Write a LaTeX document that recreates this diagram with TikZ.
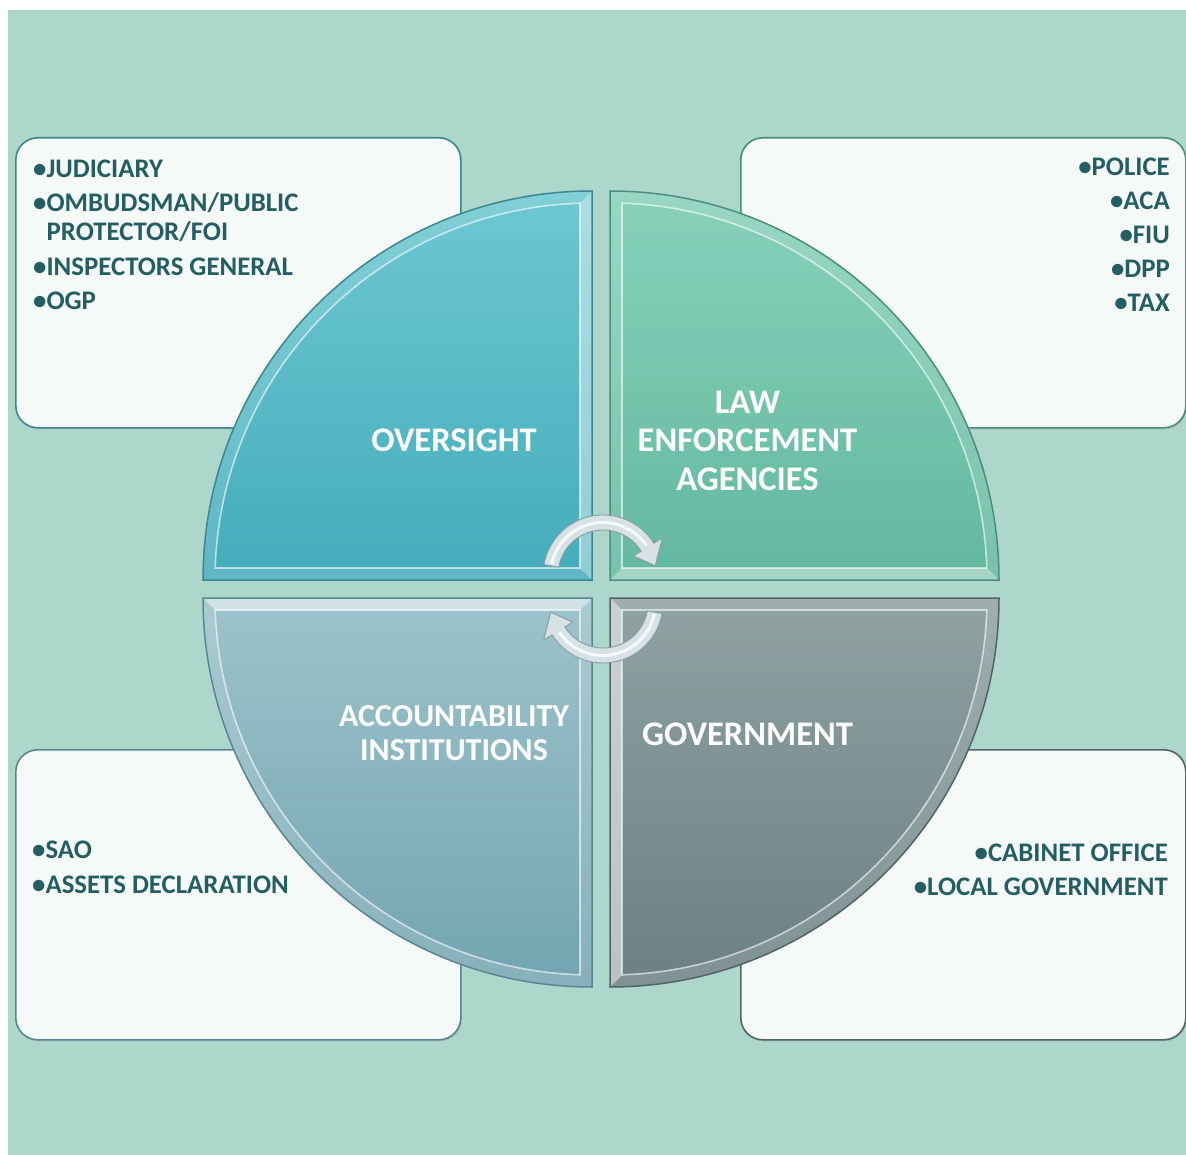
\documentclass[tikz,border=0pt]{standalone}
\usepackage{fontspec}
\setmainfont{Carlito}
\usetikzlibrary{calc,shadows}
\definecolor{bgmint}{HTML}{ADD7CB}
\definecolor{boxfill}{HTML}{F5F9F8}
\definecolor{listtxt}{HTML}{235E63}
\definecolor{ovT}{HTML}{6DC8D1}\definecolor{ovB}{HTML}{44ACBB}\definecolor{ovD}{HTML}{3C8792}
\definecolor{leT}{HTML}{88D1BB}\definecolor{leB}{HTML}{62B89E}\definecolor{leD}{HTML}{4A8E7C}
\definecolor{acT}{HTML}{9DC3CB}\definecolor{acB}{HTML}{73A4B1}\definecolor{acD}{HTML}{5A8692}
\definecolor{goT}{HTML}{90A2A2}\definecolor{goB}{HTML}{6B8082}\definecolor{goD}{HTML}{526566}
\definecolor{arrF}{HTML}{D6E2E5}\definecolor{arrD}{HTML}{8C9DA1}
\tikzset{
  infobox/.style={fill=boxfill, line width=1.6pt, rounded corners=22pt, minimum width=445pt,
    minimum height=290pt, inner sep=0pt, anchor=north west,
    drop shadow={opacity=0.25, shadow xshift=1pt, shadow yshift=-1.5pt}},
  listitem/.style={text=listtxt, font=\bfseries\fontsize{26.8}{30}\selectfont, inner sep=0pt},
  quadlabel/.style={text=white, font=\bfseries\fontsize{34.5}{38.5}\selectfont, inner sep=0pt, anchor=base, align=center},
  bevelband/.style={white, opacity=0.14, line width=24pt},
  bevelline/.style={white, opacity=0.6, line width=1.6pt},
  brightstrip/.style={white, opacity=0.32},
  cyclearrow/.style={fill=arrF, draw=arrD, line width=0.9pt, line join=round},
}
\def\pTL{(592,580) -- ++(180:389) arc[start angle=180,end angle=270,radius=389] -- cycle}
\def\iTL{(592,580) ++(181.824:377) arc[start angle=181.824,end angle=268.176,radius=377] -- (580,568) -- cycle}
\def\pTR{(610,580) -- ++(270:389) arc[start angle=270,end angle=360,radius=389] -- cycle}
\def\iTR{(610,580) ++(271.824:377) arc[start angle=271.824,end angle=358.176,radius=377] -- (622,568) -- cycle}
\def\pBL{(592,598) -- ++(90:389) arc[start angle=90,end angle=180,radius=389] -- cycle}
\def\iBL{(592,598) ++(91.824:377) arc[start angle=91.824,end angle=178.176,radius=377] -- (580,610) -- cycle}
\def\pBR{(610,598) -- ++(0:389) arc[start angle=0,end angle=90,radius=389] -- cycle}
\def\iBR{(610,598) ++(1.824:377) arc[start angle=1.824,end angle=88.176,radius=377] -- (622,610) -- cycle}
\begin{document}
\begin{tikzpicture}[x=1pt,y=-1pt]
\useasboundingbox (0,0) rectangle (1186,1155);
\fill[white] (0,0) rectangle (1186,1155);
\fill[bgmint] (8,10) rectangle (1186,1155);

% side boxes
\node[infobox, draw=ovD] (boxTL) at (15,137) {};
\node[infobox, draw=leD] (boxTR) at (740,137) {};
\node[infobox, draw=acD] (boxBL) at (15,749) {};
\node[infobox, draw=goD] (boxBR) at (740,749) {};

% quadrants
\begin{scope}
  \clip \pTL;
  \shade[top color=ovT, bottom color=ovB] \pTL;
  \draw[bevelband] \pTL;
  \fill[brightstrip] (580,203) -- (592,191) -- (592,580) -- (580,568) -- cycle;
  \draw[bevelline] \iTL;
\end{scope}
\draw[ovD, line width=1.5pt] \pTL;

\begin{scope}
  \clip \pTR;
  \shade[top color=leT, bottom color=leB] \pTR;
  \draw[bevelband] \pTR;
  \fill[brightstrip] (622,568) -- (987,568) -- (999,580) -- (610,580) -- cycle;
  \draw[bevelline] \iTR;
\end{scope}
\draw[leD, line width=1.5pt] \pTR;

\begin{scope}
  \clip \pBL;
  \shade[top color=acT, bottom color=acB] \pBL;
  \draw[bevelband] \pBL;
  \fill[white, opacity=0.45] (203,598) -- (592,598) -- (580,610) -- (215,610) -- cycle;
  \draw[bevelline] \iBL;
\end{scope}
\draw[acD, line width=1.5pt] \pBL;

\begin{scope}
  \clip \pBR;
  \shade[top color=goT, bottom color=goB] \pBR;
  \draw[bevelband] \pBR;
  \fill[white, opacity=0.45] (610,598) -- (622,610) -- (622,975) -- (610,987) -- cycle;
  \draw[bevelline] \iBR;
\end{scope}
\draw[goD, line width=1.5pt] \pBR;

% cycle arrows
\coordinate (ca) at (603,575);
\coordinate (cb) at (603,603);
\draw[cyclearrow] ($(ca)+(190:45)$) -- ($(ca)+(190:60)$) arc[start angle=190,end angle=328,radius=60]
  -- ($(ca)+(328:70)$) -- ($(ca)+(350:53)$) -- ($(ca)+(328:36)$) -- ($(ca)+(328:45)$)
  arc[start angle=328,end angle=190,radius=45] -- cycle;
\draw[white, opacity=0.8, line width=3pt] ($(ca)+(192:52.5)$) arc[start angle=192,end angle=326,radius=52.5];
\draw[cyclearrow] ($(cb)+(10:45)$) -- ($(cb)+(10:60)$) arc[start angle=10,end angle=148,radius=60]
  -- ($(cb)+(148:70)$) -- ($(cb)+(170:53)$) -- ($(cb)+(148:36)$) -- ($(cb)+(148:45)$)
  arc[start angle=148,end angle=10,radius=45] -- cycle;
\draw[white, opacity=0.8, line width=3pt] ($(cb)+(12:52.5)$) arc[start angle=12,end angle=146,radius=52.5];

% quadrant labels (base anchor = baseline of last line)
\node[quadlabel] (oversight) at (454,451.7) {OVERSIGHT};
\node[quadlabel] (law) at (747.5,490) {LAW\\ENFORCEMENT\\AGENCIES};
\node[quadlabel, font=\bfseries\fontsize{32}{33.3}\selectfont] (acc) at (454,760) {ACCOUNTABILITY\\INSTITUTIONS};
\node[quadlabel] (gov) at (747.5,745) {GOVERNMENT};

% lists
\node[listitem, anchor=base west] (l1) at (33,178) {•JUDICIARY};
\node[listitem, anchor=base west] (l2) at (33,212) {•OMBUDSMAN/PUBLIC};
\node[listitem, anchor=base west] (l3) at (46.5,241) {PROTECTOR/FOI};
\node[listitem, anchor=base west] (l4) at (33,276) {•INSPECTORS GENERAL};
\node[listitem, anchor=base west] (l5) at (33,309.5) {•OGP};

\node[listitem, anchor=base east] (r1) at (1170,176) {•POLICE};
\node[listitem, anchor=base east] (r2) at (1170,210) {•ACA};
\node[listitem, anchor=base east] (r3) at (1170,244) {•FIU};
\node[listitem, anchor=base east] (r4) at (1170,278) {•DPP};
\node[listitem, anchor=base east] (r5) at (1170,312) {•TAX};

\node[listitem, anchor=base west] (b1) at (32,858) {•SAO};
\node[listitem, anchor=base west] (b2) at (32,893) {•ASSETS DECLARATION};

\node[listitem, anchor=base east] (g1) at (1168,861) {•CABINET OFFICE};
\node[listitem, anchor=base east] (g2) at (1168,895) {•LOCAL GOVERNMENT};
\end{tikzpicture}
\end{document}
